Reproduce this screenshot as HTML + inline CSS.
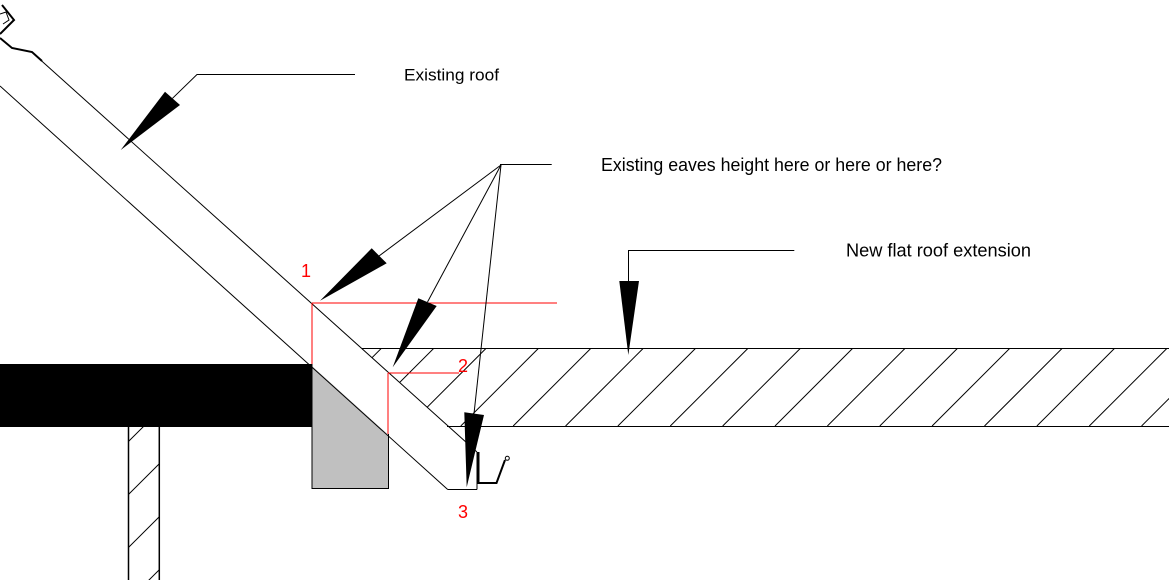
<!DOCTYPE html>
<html>
<head>
<meta charset="utf-8">
<style>
html,body{margin:0;padding:0;background:#fff;}
svg{display:block;}
text{font-family:"Liberation Sans",Arial,sans-serif;}
</style>
</head>
<body>
<svg width="1169" height="580" viewBox="0 0 1169 580" xmlns="http://www.w3.org/2000/svg">
<defs>
  <clipPath id="slab"><polygon points="361.7,348 1169,348 1169,426 448,426"/></clipPath>
  <clipPath id="col"><rect x="128.3" y="427" width="31" height="153"/></clipPath>
</defs>
<rect width="1169" height="580" fill="#fff"/>

<!-- gray block -->
<polygon points="312,366 388,434.5 388,488 312,488" fill="#c0c0c0" stroke="none"/>
<polyline points="312,364 312,488.5 388.5,488.5 388.5,434" fill="none" stroke="#000" stroke-width="1"/>

<!-- black bar -->
<rect x="0" y="364" width="312" height="63" fill="#000"/>

<!-- column -->
<line x1="128.5" y1="427" x2="128.5" y2="580" stroke="#000" stroke-width="1.5"/>
<line x1="159.3" y1="427" x2="159.3" y2="580" stroke="#000" stroke-width="1.5"/>
<g clip-path="url(#col)" stroke="#000" stroke-width="1">
  <line x1="128.3" y1="441.7" x2="159.3" y2="410.7"/>
  <line x1="128.3" y1="494.7" x2="159.3" y2="463.7"/>
  <line x1="128.3" y1="547.7" x2="159.3" y2="516.7"/>
  <line x1="128.3" y1="600.7" x2="159.3" y2="569.7"/>
</g>

<!-- slab hatch -->
<g clip-path="url(#slab)" stroke="#000" stroke-width="1">
  <line x1="381.7" y1="348" x2="303.7" y2="426"/>
  <line x1="434.1" y1="348" x2="356.1" y2="426"/>
  <line x1="486.4" y1="348" x2="408.4" y2="426"/>
  <line x1="538.8" y1="348" x2="460.8" y2="426"/>
  <line x1="591.2" y1="348" x2="513.2" y2="426"/>
  <line x1="643.6" y1="348" x2="565.6" y2="426"/>
  <line x1="695.9" y1="348" x2="617.9" y2="426"/>
  <line x1="748.3" y1="348" x2="670.3" y2="426"/>
  <line x1="800.7" y1="348" x2="722.7" y2="426"/>
  <line x1="853.0" y1="348" x2="775.0" y2="426"/>
  <line x1="905.4" y1="348" x2="827.4" y2="426"/>
  <line x1="957.8" y1="348" x2="879.8" y2="426"/>
  <line x1="1010.1" y1="348" x2="932.1" y2="426"/>
  <line x1="1062.5" y1="348" x2="984.5" y2="426"/>
  <line x1="1114.9" y1="348" x2="1036.9" y2="426"/>
  <line x1="1167.3" y1="348" x2="1089.3" y2="426"/>
  <line x1="1219.6" y1="348" x2="1141.6" y2="426"/>
</g>
<line x1="361.7" y1="348.5" x2="1169" y2="348.5" stroke="#000" stroke-width="1"/>
<line x1="447" y1="426.5" x2="1169" y2="426.5" stroke="#000" stroke-width="1"/>

<!-- rafter -->
<line x1="41.7" y1="61" x2="477" y2="452" stroke="#000" stroke-width="1"/>
<line x1="0" y1="86" x2="447.7" y2="489.5" stroke="#000" stroke-width="1"/>
<line x1="447.7" y1="489.5" x2="477" y2="489.5" stroke="#000" stroke-width="1"/>
<line x1="477" y1="452" x2="477" y2="489.5" stroke="#000" stroke-width="1"/>

<!-- top-left detail -->
<polyline points="0,38 12,48 32,52 42,61" fill="none" stroke="#000" stroke-width="2"/>
<polyline points="2,5 14,20 0,34" fill="none" stroke="#000" stroke-width="2"/>
<polyline points="0,14 6,12 9,20 3,24" fill="none" stroke="#000" stroke-width="1"/>

<!-- gutter -->
<polyline points="478.5,452 478.5,483 496.5,483 505,460" fill="none" stroke="#000" stroke-width="2"/>
<circle cx="507.3" cy="458.3" r="2" fill="none" stroke="#000" stroke-width="1"/>

<!-- red lines -->
<g stroke="#ff0000" stroke-width="1" shape-rendering="crispEdges">
  <line x1="312" y1="303" x2="557" y2="303"/>
  <line x1="312" y1="303" x2="312" y2="364"/>
  <line x1="388" y1="373" x2="459" y2="373"/>
  <line x1="388" y1="373" x2="388" y2="434"/>
</g>
<text x="301" y="277" font-size="18" fill="#ff0000">1</text>
<text x="458" y="372" font-size="18" fill="#ff0000">2</text>
<text x="458" y="518" font-size="18" fill="#ff0000">3</text>

<!-- leader: Existing roof -->
<polyline points="355,74.5 197,74.5 172.5,98.3" fill="none" stroke="#000" stroke-width="1"/>
<polygon points="120.7,150 165,91.7 180,105" fill="#000"/>
<text x="404" y="80.5" font-size="17" textLength="95" lengthAdjust="spacingAndGlyphs">Existing roof</text>

<!-- leader: eaves -->
<line x1="500" y1="164.5" x2="551.7" y2="164.5" stroke="#000" stroke-width="1"/>
<line x1="501" y1="165" x2="379" y2="256" stroke="#000" stroke-width="1"/>
<line x1="501" y1="165" x2="427.5" y2="302" stroke="#000" stroke-width="1"/>
<line x1="501" y1="165" x2="474" y2="413.7" stroke="#000" stroke-width="1"/>
<polygon points="320,300.7 371.7,248.3 386.7,263.3" fill="#000"/>
<polygon points="392.7,367.3 418.3,298.3 436.7,306" fill="#000"/>
<polygon points="466.7,487.3 464.3,412.3 484,415" fill="#000"/>
<text x="601" y="171" font-size="18" textLength="341" lengthAdjust="spacingAndGlyphs">Existing eaves height here or here or here?</text>

<!-- leader: new flat roof -->
<polyline points="794.3,250.5 628.5,250.5 628.5,281" fill="none" stroke="#000" stroke-width="1"/>
<polygon points="628.3,355 619.3,281 639,281" fill="#000"/>
<text x="846" y="256.5" font-size="18" textLength="185" lengthAdjust="spacingAndGlyphs">New  flat roof extension</text>
</svg>
</body>
</html>
